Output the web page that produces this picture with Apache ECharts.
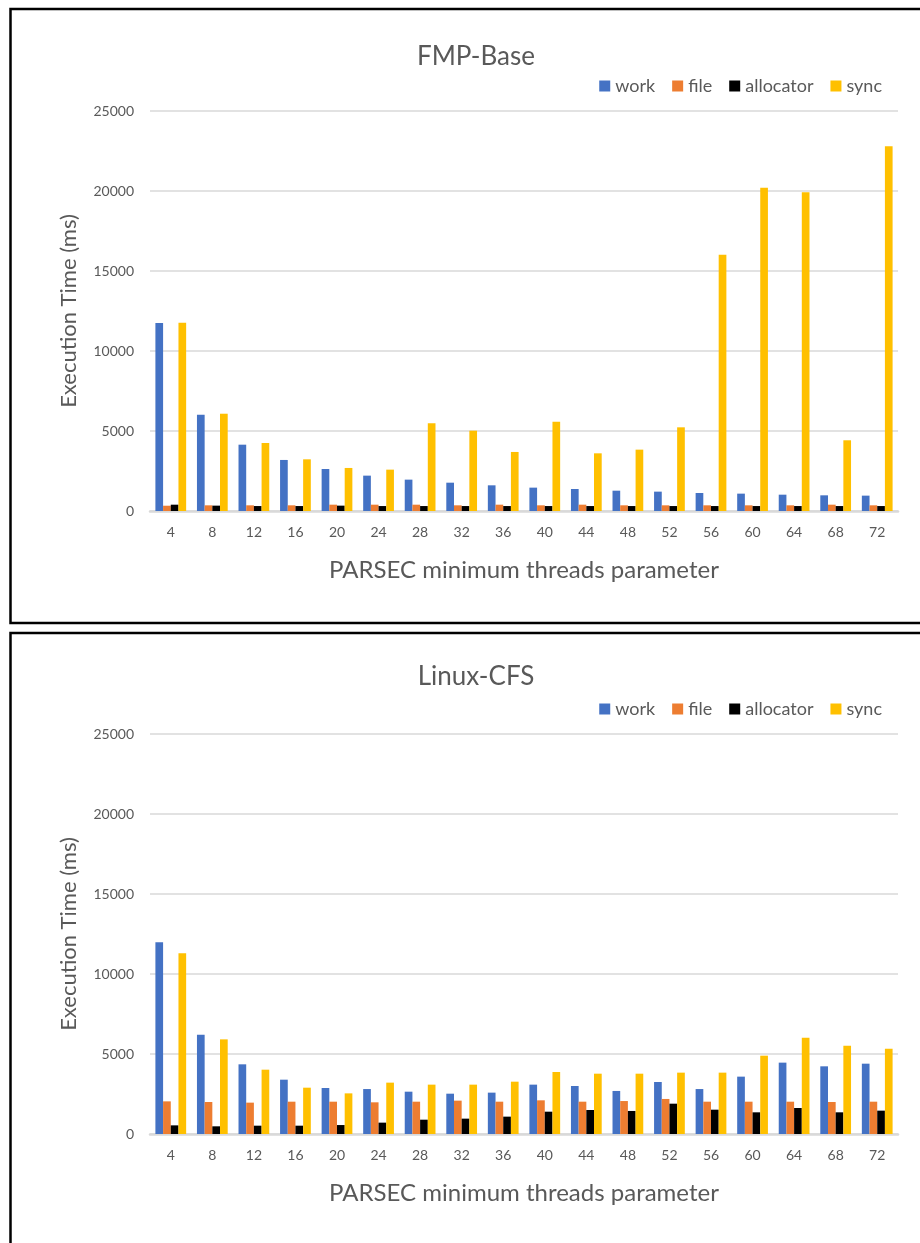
<!DOCTYPE html>
<html>
<head>
<meta charset="utf-8">
<script src="https://cdn.jsdelivr.net/npm/echarts@6/dist/echarts.min.js"></script>
<style>
html,body{margin:0;padding:0;background:#fff;}
#c{width:920px;height:1243px;}
</style>
</head>
<body>
<div id="c"></div>
<script>
const categories = ['4','8','12','16','20','24','28','32','36','40','44','48','52','56','60','64','68','72'];
const seriesNames = ['work','file','allocator','sync'];
const yTicks = [0, 5000, 10000, 15000, 20000, 25000];

// FMP-Base
const fmpWork = [11750, 6020, 4145, 3190, 2625, 2210, 1960, 1770, 1605, 1460, 1375, 1270, 1210, 1125, 1085, 1020, 980, 960];
const fmpFile = [330, 355, 355, 355, 395, 395, 395, 355, 395, 355, 395, 355, 355, 355, 355, 355, 395, 355];
const fmpAllocator = [395, 335, 310, 310, 335, 310, 310, 310, 310, 310, 310, 310, 310, 310, 310, 310, 310, 310];
const fmpSync = [11770, 6080, 4250, 3230, 2690, 2585, 5480, 5020, 3690, 5585, 3605, 3835, 5230, 16020, 20210, 19920, 4420, 22790];

// Linux-CFS
const cfsWork = [11980, 6210, 4355, 3395, 2875, 2810, 2645, 2520, 2585, 3085, 3000, 2690, 3250, 2810, 3585, 4460, 4230, 4395];
const cfsFile = [2040, 2000, 1960, 2020, 2020, 1980, 2020, 2085, 2020, 2105, 2020, 2060, 2190, 2020, 2020, 2020, 2000, 2020];
const cfsAllocator = [540, 480, 520, 520, 560, 710, 895, 960, 1085, 1395, 1500, 1440, 1895, 1520, 1355, 1625, 1355, 1460];
const cfsSync = [11290, 5915, 4020, 2895, 2540, 3210, 3085, 3085, 3270, 3875, 3770, 3770, 3835, 3835, 4895, 6020, 5520, 5335];

const colors = ['#4472C4', '#ED7D31', '#000000', '#FFC000'];
const FONT = 'Lato, "Noto Sans", sans-serif';
const grey = '#595959';

const chart = echarts.init(document.getElementById('c'), null, {renderer: 'canvas'});

function xAxis(gi) {
  return {
    type: 'category', gridIndex: gi, data: categories,
    name: 'PARSEC minimum threads parameter', nameLocation: 'middle', nameGap: 47,
    nameTextStyle: {fontFamily: FONT, fontSize: 24, color: grey},
    axisLine: {lineStyle: {color: '#D9D9D9', width: 2.5}},
    axisTick: {show: false},
    axisLabel: {fontFamily: FONT, fontSize: 14, color: grey, margin: 14}
  };
}
function yAxis(gi) {
  return {
    type: 'value', gridIndex: gi, min: yTicks[0], max: yTicks[yTicks.length-1], interval: yTicks[1]-yTicks[0],
    name: 'Execution Time (ms)', nameLocation: 'middle', nameGap: 70,
    nameTextStyle: {fontFamily: FONT, fontSize: 22, color: grey},
    axisLine: {show: false}, axisTick: {show: false},
    axisLabel: {fontFamily: FONT, fontSize: 14, color: grey, margin: 16, formatter: v => String(v)},
    splitLine: {lineStyle: {color: '#D9D9D9', width: 1.5}}
  };
}
const groups = [
  [fmpWork, fmpFile, fmpAllocator, fmpSync],
  [cfsWork, cfsFile, cfsAllocator, cfsSync]
];
const series = [];
groups.forEach((g, gi) => {
  g.forEach((d, si) => {
    series.push({
      type: 'bar', name: seriesNames[si], xAxisIndex: gi, yAxisIndex: gi,
      data: d, barGap: '0%', barCategoryGap: '26%',
      itemStyle: {color: colors[si]}
    });
  });
});
function legend(top) {
  return {
    top: top, right: 33, itemWidth: 11, itemHeight: 11, itemGap: 17,
    icon: 'rect', data: seriesNames,
    textStyle: {fontFamily: FONT, fontSize: 18, color: grey, padding: [0, 0, 0, 0]}
  };
}
chart.setOption({
  animation: false,
  color: colors,
  title: [
    {text: 'FMP-Base', left: 471, top: 39, textAlign: 'center', textStyle: {fontFamily: FONT, fontSize: 26, fontWeight: 'normal', color: grey}},
    {text: 'Linux-CFS', left: 471, top: 659, textAlign: 'center', textStyle: {fontFamily: FONT, fontSize: 26, fontWeight: 'normal', color: grey}}
  ],
  legend: [legend(72), legend(695)],
  grid: [
    {left: 150, right: 22, top: 111, height: 400},
    {left: 150, right: 22, top: 734, height: 400}
  ],
  xAxis: [xAxis(0), xAxis(1)],
  yAxis: [yAxis(0), yAxis(1)],
  series: series,
  graphic: [
    {type: 'rect', shape: {x: 10.5, y: 9, width: 1000, height: 614}, style: {fill: 'none', stroke: '#000', lineWidth: 2.5}, z: 100},
    {type: 'rect', shape: {x: 10.5, y: 633, width: 1000, height: 700}, style: {fill: 'none', stroke: '#000', lineWidth: 2.5}, z: 100}
  ]
});
</script>
</body>
</html>
